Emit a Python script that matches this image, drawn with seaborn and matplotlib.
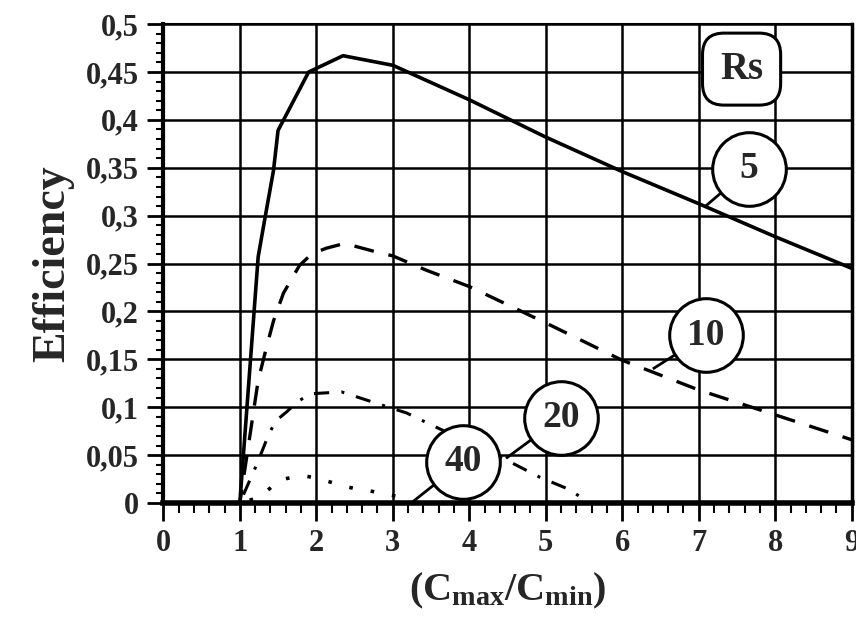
import matplotlib
matplotlib.use("Agg")
import matplotlib.pyplot as plt
import seaborn as sns
import pandas as pd
from matplotlib.ticker import MultipleLocator, FixedLocator

# ---- data ----
x_rs5 = [0, 1.0, 1.24, 1.33, 1.44, 1.5, 1.9, 2.35, 3.0, 4.0, 5.0, 6.0, 7.0, 8.0, 9.0]
y_rs5 = [0, 0.0, 0.257, 0.298, 0.347, 0.389, 0.45, 0.467, 0.457, 0.421, 0.382, 0.346, 0.3125, 0.278, 0.245]

x_rs10 = [0, 1.0, 1.24, 1.35, 1.44, 1.57, 1.78, 1.94, 2.13, 2.37, 2.79, 3.0, 3.44, 4.0, 5.0, 6.0, 7.0, 8.0, 9.0]
y_rs10 = [0, 0.0, 0.128, 0.163, 0.19, 0.219, 0.248, 0.26, 0.266, 0.271, 0.262, 0.258, 0.243, 0.226, 0.188, 0.149, 0.118, 0.092, 0.066]

x_rs20 = [0, 1.0, 1.22, 1.35, 1.46, 1.61, 1.76, 1.92, 2.33, 2.79, 3.18, 3.57, 4.0, 4.53, 4.92, 5.31, 5.57]
y_rs20 = [0, 0.0, 0.04, 0.066, 0.085, 0.095, 0.106, 0.114, 0.116, 0.104, 0.094, 0.079, 0.063, 0.043, 0.027, 0.014, 0.0]

x_rs40 = [0, 1.0, 1.26, 1.39, 1.52, 1.70, 1.87, 2.05, 2.22, 2.39, 2.57, 2.74, 2.92, 3.09, 3.3]
y_rs40 = [0, 0.0, 0.006, 0.015, 0.024, 0.027, 0.028, 0.025, 0.021, 0.017, 0.014, 0.012, 0.009, 0.0066, 0.0]

labels = ["5", "10", "20", "40"]
label_centers_x = [7.66, 7.09, 5.20, 3.92]
label_centers_y = [0.349, 0.175, 0.089, 0.043]
leader_x = [7.09, 6.40, 4.48, 3.24]
leader_y = [0.31, 0.140, 0.0466, 0.0]

xticks = [0, 1, 2, 3, 4, 5, 6, 7, 8, 9]
xtick_labels = ["0", "1", "2", "3", "4", "5", "6", "7", "8", "9"]
yticks = [0, 0.05, 0.1, 0.15, 0.2, 0.25, 0.3, 0.35, 0.4, 0.45, 0.5]
ytick_labels = ["0", "0,05", "0,1", "0,15", "0,2", "0,25", "0,3", "0,35", "0,4", "0,45", "0,5"]

sns.set_theme(style="white")
plt.rcParams["font.family"] = ["Liberation Serif", "DejaVu Serif"]
plt.rcParams["font.weight"] = "bold"
plt.rcParams["mathtext.fontset"] = "custom"
plt.rcParams["mathtext.rm"] = "Liberation Serif:bold"
plt.rcParams["mathtext.it"] = "Liberation Serif:bold"
plt.rcParams["mathtext.bf"] = "Liberation Serif:bold"

fig = plt.figure(figsize=(8.56, 6.18), dpi=100)
ax = fig.add_axes([0.1908, 0.1861, 0.995 - 0.1908, 0.961 - 0.1861])

series = [
    (x_rs5, y_rs5, dict(linestyle="-", linewidth=2.6)),
    (x_rs10, y_rs10, dict(linestyle=(0, (6, 4.5)), linewidth=2.4)),
    (x_rs20, y_rs20, dict(linestyle=(0, (5, 4, 1, 4)), linewidth=2.2)),
    (x_rs40, y_rs40, dict(linestyle=(0, (1, 5)), linewidth=2.6)),
]
for xs, ys, kw in series:
    df = pd.DataFrame({"x": xs, "y": ys})
    sns.lineplot(data=df, x="x", y="y", sort=False, estimator=None, color="black",
                 ax=ax, zorder=3, **kw)

# leader lines + circle labels
for lab, cx, cy, lx, ly in zip(labels, label_centers_x, label_centers_y, leader_x, leader_y):
    ax.plot([cx, lx], [cy, ly], color="black", lw=2, zorder=4, solid_capstyle="butt")
    ax.plot([cx], [cy], marker="o", markersize=53, markerfacecolor="white",
            markeredgecolor="black", markeredgewidth=2.2, zorder=5, clip_on=False)
    ax.text(cx, cy, lab, ha="center", va="center", fontsize=27, fontweight="bold",
            zorder=6)

ax.text(7.56, 0.453, "Rs", ha="center", va="center", fontsize=28, fontweight="bold",
        zorder=6,
        bbox=dict(boxstyle="round,pad=0.45,rounding_size=0.55", facecolor="white",
                  edgecolor="black", linewidth=2.2))

ax.set_xlim(0, 9)
ax.set_ylim(0, 0.5)
ax.xaxis.set_major_locator(FixedLocator(xticks))
ax.set_xticklabels(xtick_labels)
ax.yaxis.set_major_locator(FixedLocator(yticks))
ax.set_yticklabels(ytick_labels)
ax.xaxis.set_minor_locator(MultipleLocator(0.2))
ax.yaxis.set_minor_locator(MultipleLocator(0.01))

ax.grid(True, which="major", color="black", linewidth=1.8)
ax.set_axisbelow(True)

ax.tick_params(axis="x", which="major", direction="out", length=13, width=2,
               color="black", labelsize=22, pad=6)
ax.tick_params(axis="y", which="major", direction="out", length=11.5, width=2,
               color="black", labelsize=22, pad=6)
ax.tick_params(axis="x", which="minor", direction="out", length=7, width=1.5,
               color="black")
ax.tick_params(axis="y", which="minor", direction="out", length=5, width=1.5,
               color="black")
ax.tick_params(axis="x", which="both", bottom=True)
ax.tick_params(axis="y", which="both", left=True)
for lbl in ax.get_xticklabels() + ax.get_yticklabels():
    lbl.set_fontweight("bold")

for side in ["left", "bottom", "right", "top"]:
    ax.spines[side].set_color("black")
ax.spines["left"].set_linewidth(3)
ax.spines["bottom"].set_linewidth(4)
ax.spines["right"].set_linewidth(2.5)
ax.spines["top"].set_linewidth(1.5)

ax.set_xlabel(r"$(\mathrm{C}_{\mathrm{max}}/\mathrm{C}_{\mathrm{min}})$", fontsize=29, labelpad=9)
ax.set_ylabel("Efficiency", fontsize=33, fontweight="bold", labelpad=8)

fig.savefig("out.png", dpi=100)
